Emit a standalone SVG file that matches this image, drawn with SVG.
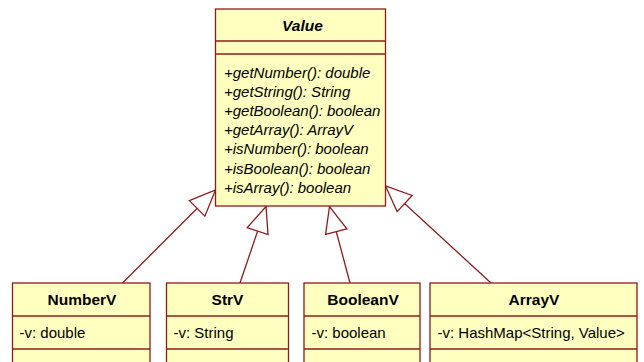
<svg xmlns="http://www.w3.org/2000/svg" width="644" height="362" viewBox="0 0 644 362">
<style>
.box{fill:#FFFFC0;stroke:#8E1B1B;stroke-width:1.3}
.div{stroke:#8E1B1B;stroke-width:1.3}
.title{font-family:"Liberation Sans",Arial,sans-serif;font-weight:bold;font-size:15.5px;fill:#000;text-anchor:middle}
.attr{font-family:"Liberation Sans",Arial,sans-serif;font-size:15px;fill:#000}
.meth{font-family:"Liberation Sans",Arial,sans-serif;font-style:italic;font-size:15px;fill:#000}
.conn{stroke:#8E1B1B;stroke-width:1.3;fill:none}
</style>
<defs>
<marker id="gen" markerUnits="userSpaceOnUse" markerWidth="28" markerHeight="24" refX="26" refY="11" orient="auto" overflow="visible">
<path d="M0,0 L26,11 L0,22 Z" fill="#FFFFFF" stroke="#8E1B1B" stroke-width="1.3"/>
</marker>
</defs>
<rect width="644" height="362" fill="#FFFFFF"/>
<g id="connectors">
<line class="conn" x1="122.5" y1="283" x2="215.5" y2="190" marker-end="url(#gen)"/>
<line class="conn" x1="240" y1="283" x2="266" y2="206.5" marker-end="url(#gen)"/>
<line class="conn" x1="350" y1="283" x2="329.5" y2="206.5" marker-end="url(#gen)"/>
<line class="conn" x1="491" y1="283" x2="385.5" y2="186" marker-end="url(#gen)"/>
</g>
<g id="Value">
<rect class="box" x="215.5" y="9" width="170" height="197"/>
<line class="div" x1="215.5" y1="41" x2="385.5" y2="41"/>
<line class="div" x1="215.5" y1="54" x2="385.5" y2="54"/>
<text class="title" x="302.5" y="30.5" font-style="italic">Value</text>
<text class="meth" x="224" y="77.5">+getNumber(): double</text>
<text class="meth" x="224" y="96.7">+getString(): String</text>
<text class="meth" x="224" y="115.9">+getBoolean(): boolean</text>
<text class="meth" x="224" y="135.1">+getArray(): ArrayV</text>
<text class="meth" x="224" y="154.3">+isNumber(): boolean</text>
<text class="meth" x="224" y="173.5">+isBoolean(): boolean</text>
<text class="meth" x="224" y="192.7">+isArray(): boolean</text>
</g>
<g id="NumberV">
<rect class="box" x="12.5" y="283" width="137.5" height="100"/>
<line class="div" x1="12.5" y1="316" x2="150" y2="316"/>
<line class="div" x1="12.5" y1="349" x2="150" y2="349"/>
<text class="title" x="82" y="305">NumberV</text>
<text class="attr" x="19.5" y="337.5">-v: double</text>
</g>
<g id="StrV">
<rect class="box" x="166.5" y="283" width="122" height="100"/>
<line class="div" x1="166.5" y1="316" x2="288.5" y2="316"/>
<line class="div" x1="166.5" y1="349" x2="288.5" y2="349"/>
<text class="title" x="227.5" y="305">StrV</text>
<text class="attr" x="173.5" y="337.5">-v: String</text>
</g>
<g id="BooleanV">
<rect class="box" x="304" y="283" width="116" height="100"/>
<line class="div" x1="304" y1="316" x2="420" y2="316"/>
<line class="div" x1="304" y1="349" x2="420" y2="349"/>
<text class="title" x="363" y="305">BooleanV</text>
<text class="attr" x="311.5" y="337.5">-v: boolean</text>
</g>
<g id="ArrayV">
<rect class="box" x="430" y="283" width="207" height="100"/>
<line class="div" x1="430" y1="316" x2="637" y2="316"/>
<line class="div" x1="430" y1="349" x2="637" y2="349"/>
<text class="title" x="534" y="305">ArrayV</text>
<text class="attr" x="437.5" y="337.5">-v: HashMap&lt;String, Value&gt;</text>
</g>
</svg>
